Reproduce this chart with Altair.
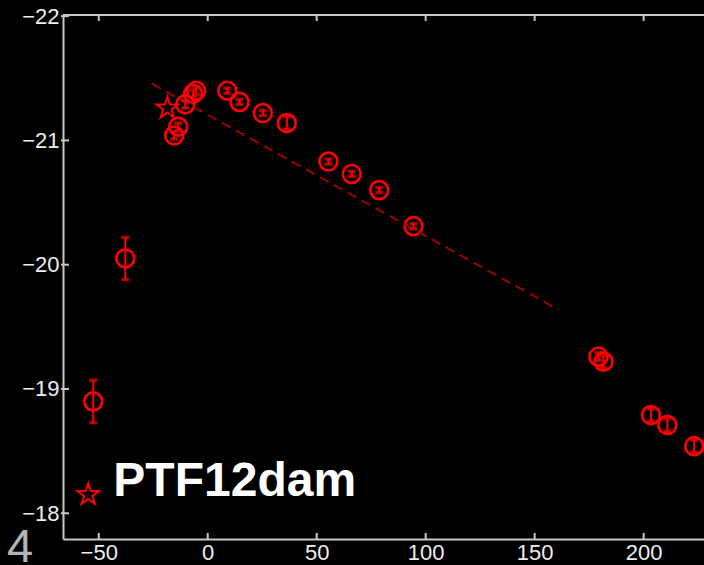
import altair as alt
import pandas as pd

# Photometry (days from peak, absolute magnitude, error)
phase = [-52.5, -37.8, -15.4, -13.5, -10.3, -6.7, -5.3, 9.0, 14.6, 25.3, 36.3,
         55.4, 66.1, 78.7, 94.4, 179.3, 181.6, 203.4, 210.9, 223.2]
mag = [-18.90, -20.05, -21.04, -21.11, -21.29, -21.375, -21.40, -21.40, -21.31,
       -21.22, -21.14, -20.83, -20.73, -20.60, -20.31, -19.26, -19.22, -18.79,
       -18.71, -18.54]
err = [0.17, 0.17, 0.03, 0.03, 0.03, 0.03, 0.03, 0.02, 0.02, 0.02, 0.05,
       0.02, 0.02, 0.02, 0.02, 0.03, 0.05, 0.05, 0.05, 0.05]

# Star marker near peak
star_phase = [-18.5]
star_mag = [-21.26]

# Dashed decay line endpoints
line_phase = [-25.6, 160.9]
line_mag = [-21.456, -19.638]

# Label
label_text = ["PTF12dam"]
label_phase = [-43.3]
label_mag = [-18.136]
legend_star_phase = [-54.8]
legend_star_mag = [-18.15]

x_ticks = [-50, 0, 50, 100, 150, 200]
y_ticks = [-22, -21, -20, -19, -18]

W, H = 641, 524
RED = "#ff0000"
AX = "#c8c8c8"
STAR = ("M0,-1L0.2245,-0.309L0.9511,-0.309L0.3633,0.118L0.5878,0.809L0,0.382"
        "L-0.5878,0.809L-0.3633,0.118L-0.9511,-0.309L-0.2245,-0.309Z")
MINUS_EXPR = "datum.value < 0 ? '\u2212' + format(abs(datum.value), 'd') : format(datum.value, 'd')"

xs = alt.Scale(domain=[-66.4, 227.7], nice=False, zero=False)
ys = alt.Scale(domain=[-22.009, -17.793], nice=False, zero=False, reverse=True)

df = pd.DataFrame({"phase": phase, "mag": mag, "err": err})
df["lo"] = df["mag"] - df["err"]
df["hi"] = df["mag"] + df["err"]


def XN(f):
    return alt.X(f, scale=xs, title="")


def YN(f):
    return alt.Y(f, scale=ys, title="")


X = alt.X("phase:Q", scale=xs, title="",
          axis=alt.Axis(values=x_ticks, labelExpr=MINUS_EXPR))
Y = alt.Y("mag:Q", scale=ys, title="",
          axis=alt.Axis(values=y_ticks, labelExpr=MINUS_EXPR))

base = alt.Chart(df)

bars = base.mark_rule(color=RED, strokeWidth=2).encode(
    x=XN("phase:Q"), y=YN("lo:Q"), y2="hi:Q")
caps_lo = base.mark_tick(color=RED, orient="horizontal", size=8, thickness=3.5).encode(
    x=XN("phase:Q"), y=YN("lo:Q"))
caps_hi = base.mark_tick(color=RED, orient="horizontal", size=8, thickness=3.5).encode(
    x=XN("phase:Q"), y=YN("hi:Q"))
circles = base.mark_point(shape="circle", filled=False, size=320, strokeWidth=2.7,
                          color=RED, opacity=1).encode(x=X, y=Y)

line_df = pd.DataFrame({"phase": line_phase, "mag": line_mag})
decay = alt.Chart(line_df).mark_line(color="#a00000", strokeWidth=2,
                                     strokeDash=[10, 6]).encode(
    x=XN("phase:Q"), y=YN("mag:Q"))

star_df = pd.DataFrame({"phase": star_phase + legend_star_phase,
                        "mag": star_mag + legend_star_mag})
stars = alt.Chart(star_df).mark_point(shape=STAR, filled=False, size=520,
                                      strokeWidth=2, color=RED, opacity=1).encode(
    x=XN("phase:Q"), y=YN("mag:Q"))

lab_df = pd.DataFrame({"phase": label_phase, "mag": label_mag, "t": label_text})
label = alt.Chart(lab_df).mark_text(font="Liberation Sans", fontWeight="bold",
                                    fontSize=48, color="white", align="left",
                                    baseline="alphabetic").encode(
    x=XN("phase:Q"), y=YN("mag:Q"), text="t:N")

xt_df = pd.DataFrame({"phase": x_ticks})
bot_ticks = alt.Chart(xt_df).mark_rule(color=AX, strokeWidth=2).encode(
    x=XN("phase:Q"), y=alt.value(H), y2=alt.value(H - 6))
top_ticks = alt.Chart(xt_df).mark_rule(color=AX, strokeWidth=2).encode(
    x=XN("phase:Q"), y=alt.value(0), y2=alt.value(6))
yt_df = pd.DataFrame({"mag": y_ticks})
left_ticks = alt.Chart(yt_df).mark_rule(color=AX, strokeWidth=2).encode(
    y=YN("mag:Q"), x=alt.value(-2), x2=alt.value(6))
top_line = alt.Chart(xt_df).mark_rule(color=AX, strokeWidth=2).encode(
    x=alt.value(0), x2=alt.value(W + 2), y=alt.value(0))

panel_df = pd.DataFrame({"t": ["4"]})
panel = alt.Chart(panel_df).mark_text(font="Liberation Sans", fontSize=47,
                                      color="#b4b4b4", align="left",
                                      baseline="alphabetic").encode(
    x=alt.value(-56), y=alt.value(547), text="t:N")

chart = alt.layer(circles, decay, bars, caps_lo, caps_hi, stars, label,
                  bot_ticks, top_ticks, left_ticks, top_line, panel).properties(
    width=W, height=H,
    autosize=alt.AutoSizeParams(type="none"),
    padding={"left": 63, "top": 15, "right": 0, "bottom": 26},
).configure(background="black").configure_view(
    stroke=None, fill="black"
).configure_axis(
    domainColor=AX, domainWidth=2, ticks=False, labelColor="#eeeeee",
    labelFont="Liberation Sans", labelFontSize=22, grid=False
).configure_axisX(labelPadding=3).configure_axisY(labelPadding=4)

chart.save("out.html", embed_options={"renderer": "svg", "actions": False})
